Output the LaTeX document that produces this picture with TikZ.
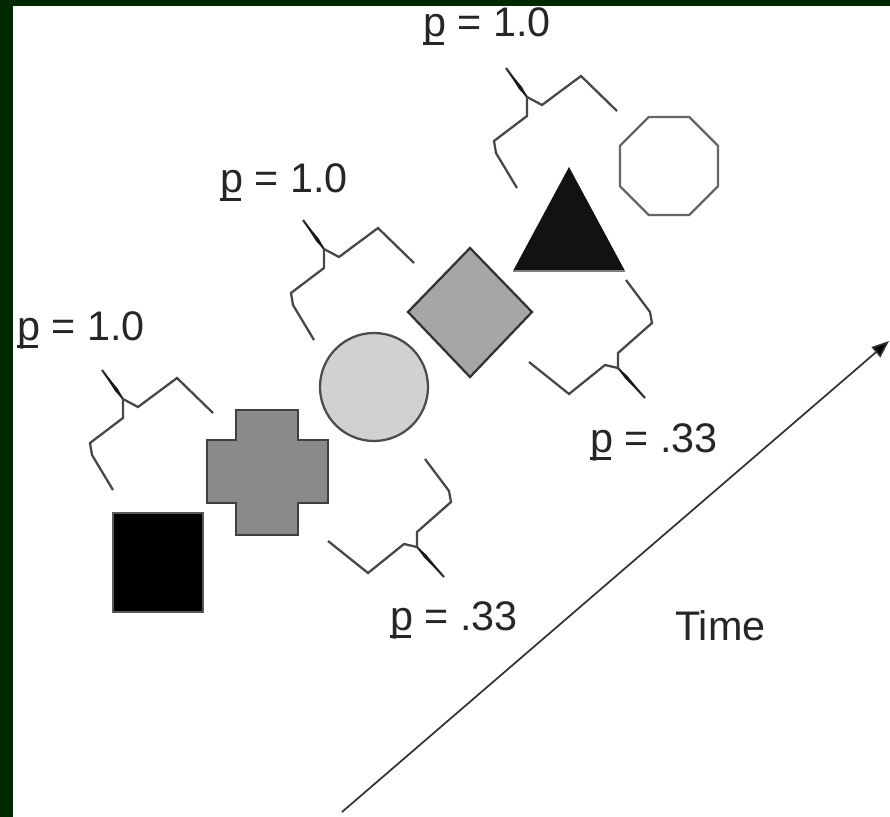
\documentclass[tikz,border=0pt]{standalone}
\usepackage{fontspec}
\setmainfont{Liberation Sans}
\usetikzlibrary{calc,arrows.meta}
\definecolor{frame}{RGB}{0,41,0}
\newcommand\pvar{\rlap{\rule[-0.19em]{0.5em}{0.06em}}p}
\begin{document}
\begin{tikzpicture}[x=0.75pt,y=-0.75pt,
  br/.style={draw=black!72, line width=1.7pt, line join=miter},
  wedgefill/.style={fill=black!90, draw=none},
  lab/.style={font=\fontsize{31}{36}\selectfont, inner sep=0pt, anchor=base west, text=black!85},
  outl/.style={line width=1.7pt, line join=miter},
  forkup/.pic={
    \draw[br] (0,0) -- (15,8) -- (54,-21) -- (90,14);
    \draw[br] (0,0) -- (0,19) -- (-33,44) -- (-31,56) -- (-10,91);
    \draw[br] (-21,-29) -- (0,0);
    \fill[wedgefill] (-21,-29) -- (-4.8,-9.8) -- (0,0) -- (-7.8,-7.6) -- cycle;
  },
  forkdown/.pic={
    \draw[br] (0,0) -- (-13,-3) -- (-49,26) -- (-89,-6);
    \draw[br] (0,0) -- (0,-15) -- (34,-45) -- (32,-56) -- (8,-88);
    \draw[br] (0,0) -- (27,30);
    \fill[wedgefill] (0,0) -- (9.4,7.8) -- (27,30) -- (6.8,10.2) -- cycle;
  }]
\useasboundingbox (0,0) rectangle (890,817);
% frame
\fill[frame] (0,0) rectangle (890,817);
\fill[white] (13,6) rectangle (890,817);

% shapes
\filldraw[fill=black, draw=black!65, outl] (113,513) rectangle (203,612);
\filldraw[fill=black!46, draw=black!75, outl]
  (236,410) -- (298,410) -- (298,440) -- (328,440) -- (328,503) -- (298,503)
  -- (298,535) -- (236,535) -- (236,503) -- (207,503) -- (207,440) -- (236,440) -- cycle;
\filldraw[fill=black!18, draw=black!70, outl] (374,387) circle[radius=54];
\filldraw[fill=black!35, draw=black!80, outl] (470,248) -- (532,312) -- (470,377) -- (408,312) -- cycle;
\fill[black!93] (569,167) -- (625,271) -- (513,271) -- cycle;
\draw[black!50, line width=1.7pt] (513,271) -- (625,271);
\draw[black!60, outl]
  (648.7,117) -- (689.3,117) -- (718,145.7) -- (718,186.3) -- (689.3,215)
  -- (648.7,215) -- (620,186.3) -- (620,145.7) -- cycle;

% forks
\pic at (123,399) {forkup};
\pic at (324,249) {forkup};
\pic at (527,97) {forkup};
\pic at (417,547) {forkdown};
\pic at (618,368) {forkdown};

% labels
\node[lab] (p1) at (17,340) {\pvar{} = 1.0};
\node[lab] (p2) at (220,193) {\pvar{} = 1.0};
\node[lab] (p3) at (423,37) {\pvar{} = 1.0};
\node[lab] (q1) at (390,630) {\pvar{} = .33};
\node[lab] (q2) at (590,452) {\pvar{} = .33};
\node[lab] (time) at (675,640) {Time};

% time arrow
\coordinate (t0) at (342,812);
\coordinate (t1) at (889,341);
\draw[black!80, line width=1.3pt, -{Triangle[length=13pt,width=10pt,fill=black]}] (t0) -- (t1);
\end{tikzpicture}
\end{document}
